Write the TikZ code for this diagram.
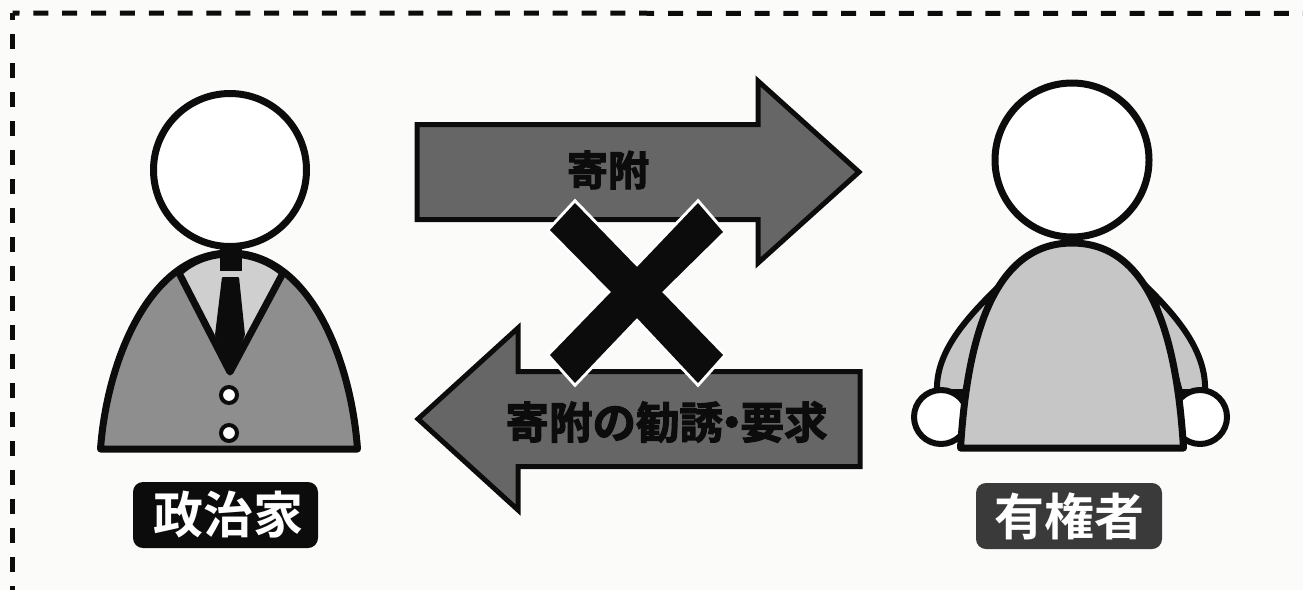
\documentclass[tikz,border=0pt]{standalone}
\usepackage{fontspec}
\newfontfamily\jpbold[FakeBold=2.6]{Noto Sans CJK JP Bold}
\newfontfamily\jpmed{Noto Sans CJK JP Bold}
\definecolor{paper}{HTML}{FBFBF9}
\definecolor{ink}{HTML}{0C0C0C}
\definecolor{suit}{HTML}{8E8E8E}
\definecolor{shirt}{HTML}{CFCFCF}
\definecolor{arrowgray}{HTML}{666666}
\definecolor{bodygray}{HTML}{C6C6C6}
\definecolor{tagdark}{HTML}{3A3A3A}
\tikzset{
  x=1pt,y=-1pt,
  outline/.style={draw=ink,line width=7pt,line join=round},
  thin outline/.style={draw=ink,line width=6pt,line join=round},
  bigarrow/.style={draw=ink,line width=5pt,line join=miter,fill=arrowgray},
  tag/.style={rounded corners=10pt,minimum height=66pt,inner sep=0pt,text=white,font=\jpmed\fontsize{50}{50}\selectfont},
  arrowtext/.style={text=ink,inner sep=0pt,font=\jpbold\fontsize{41}{41}\selectfont},
  head/.style={circle,draw=ink,line width=7pt,fill=white,inner sep=0pt},
  btn/.style={circle,draw=ink,line width=4pt,fill=white,minimum size=16pt,inner sep=0pt},
  hand/.style={circle,thin outline,fill=white,minimum size=54pt,inner sep=0pt},
  frame/.style={ink,line width=5pt},
}
\begin{document}
\begin{tikzpicture}
\useasboundingbox (0,0) rectangle (1303,590);
\fill[paper] (0,0) rectangle (1303,590);
% dashed border
\coordinate (tl) at (12.5,13);
\coordinate (bl) at (12.5,590);
\coordinate (tr) at (1303,13.5);
\draw[frame,dash pattern=on 15pt off 13.85pt,dash phase=8pt] (tl) -- (tr);
\draw[frame,dash pattern=on 15pt off 14.05pt,dash phase=8pt] (tl) -- (bl);
% politician
\path[outline,fill=suit,line cap=round] (100.5,449)
  .. controls (107,360) and (150,253) .. (230,253)
  .. controls (310,253) and (351,360) .. (357.5,449) -- cycle;
\path[outline,fill=shirt] (179,273) .. controls (195,258) and (215,254) .. (230,254)
  .. controls (245,254) and (265,258) .. (283,273) -- (230,372) -- cycle;
\fill[ink] (220,248) rectangle (242,271);
\fill[ink,rounded corners=1pt] (222,277) -- (239,277) -- (245,335) -- (230,376) -- (215,335) -- cycle;
\node[head,minimum size=153pt] (headL) at (230,170) {};
\node[btn] (btnA) at (229,395) {};
\node[btn] (btnB) at (229,433) {};
\node[tag,fill=ink,minimum width=185pt] (tagL) at (225.5,515) {\kern5pt 政治家};
% arrows
\path[bigarrow] (417,124.5) -- (758,124.5) -- (758,81) -- (859,172) -- (758,263) -- (758,219.5) -- (417,219.5) -- cycle;
\node[arrowtext] (donate) at (608,170) {寄附};
\path[bigarrow] (860,371.5) -- (518,371.5) -- (518,328) -- (418,419) -- (518,510) -- (518,466.5) -- (860,466.5) -- cycle;
\node[arrowtext,font=\jpbold\fontsize{43.5}{43.5}\selectfont] (solicit) at (666.5,422) {寄附の勧誘\kern-13pt・\kern-13pt要求};
% cross
\path[preaction={draw=white,line width=6pt,line join=miter},fill=ink]
  (575,203) -- (637,267) -- (698,203) -- (723,232) -- (662,292) -- (723,355) -- (698,383)
  -- (637,318) -- (575,383) -- (550,355) -- (611,292) -- (550,230) -- cycle;
% voter
\path[thin outline,fill=bodygray] (1000,285) .. controls (970,315) and (935,350) .. (937,392) -- (965,392) -- (990,300) -- cycle;
\path[thin outline,fill=bodygray] (1145,285) .. controls (1175,315) and (1207,350) .. (1205,392) -- (1180,392) -- (1155,300) -- cycle;
\node[hand] (handL) at (941,417) {};
\node[hand] (handR) at (1200,417) {};
\path[outline,fill=bodygray] (960.5,448)
  .. controls (966,360) and (985,243) .. (1072,243)
  .. controls (1159,243) and (1178,360) .. (1183.5,448) -- cycle;
\node[head,minimum size=154pt] (headR) at (1072,160) {};
\node[tag,fill=tagdark,minimum width=186pt] (tagR) at (1069,516) {有権者};
\end{tikzpicture}
\end{document}
